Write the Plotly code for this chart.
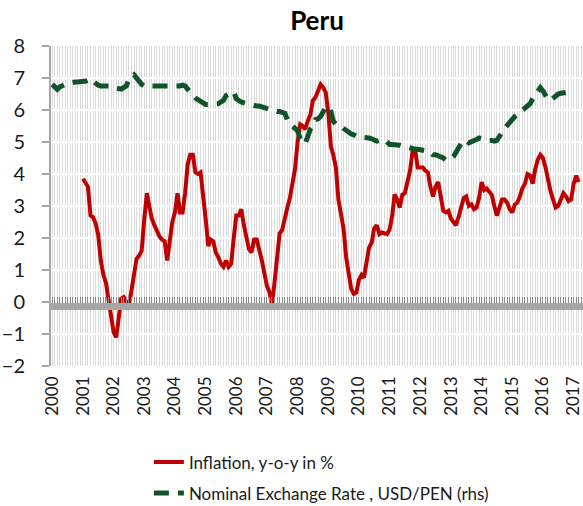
import pandas as pd
import plotly.graph_objects as go

# ---------------- data ----------------
title_text = "Peru"
infl_name = "Inflation, y-o-y in %"
fx_name = "Nominal Exchange Rate , USD/PEN (rhs)"

infl_start = "2001-01-01"
inflation = [
    3.85, 3.7, 3.6, 2.7, 2.65, 2.45, 2.1, 1.3, 0.85, 0.6, 0.1, -0.3,          # 2001
    -0.95, -1.1, -0.6, 0.1, 0.15, 0.0, -0.15, 0.35, 0.8, 1.35, 1.45, 1.6,      # 2002
    2.6, 3.4, 3.0, 2.6, 2.4, 2.2, 2.05, 1.95, 1.9, 1.3, 1.85, 2.5,             # 2003
    2.8, 3.4, 2.8, 2.8, 3.4, 4.3, 4.6, 4.6, 4.05, 4.0, 4.05, 3.4,              # 2004
    2.6, 1.75, 1.95, 1.9, 1.55, 1.4, 1.2, 1.1, 1.3, 1.1, 1.2, 2.0,             # 2005
    2.7, 2.7, 2.9, 2.4, 2.0, 1.65, 1.55, 1.95, 1.95, 1.65, 1.3, 0.9,           # 2006
    0.5, 0.3, -0.1, 0.6, 1.3, 2.15, 2.25, 2.65, 2.95, 3.25, 3.8, 4.15,         # 2007
    5.0, 5.55, 5.5, 5.4, 5.65, 5.85, 6.3, 6.4, 6.6, 6.8, 6.7, 6.55,            # 2008
    5.9, 4.85, 4.6, 4.2, 3.2, 2.7, 2.3, 1.4, 0.8, 0.4, 0.25, 0.3,              # 2009
    0.7, 0.85, 0.76, 1.2, 1.7, 1.85, 2.3, 2.4, 2.12, 2.17, 2.15, 2.12,         # 2010
    2.27, 2.7, 3.36, 3.2, 2.95, 3.35, 3.4, 3.7, 4.1, 4.7, 4.75, 4.2,           # 2011
    4.2, 4.2, 4.1, 4.05, 3.6, 3.3, 3.6, 3.75, 3.3, 2.85, 2.8, 2.85,            # 2012
    2.6, 2.5, 2.4, 2.65, 3.0, 3.25, 3.3, 3.0, 3.05, 2.9, 2.95, 3.25,           # 2013
    3.75, 3.5, 3.55, 3.45, 3.35, 3.0, 2.7, 2.95, 3.2, 3.2, 3.1, 2.9,           # 2014
    2.8, 3.05, 3.1, 3.3, 3.55, 3.7, 4.0, 3.95, 3.7, 4.15, 4.45, 4.6,           # 2015
    4.5, 4.2, 3.8, 3.45, 3.2, 2.95, 3.0, 3.2, 3.4, 3.3, 3.15, 3.2,             # 2016
    3.7, 3.95, 3.75,                                                           # 2017
]

fx_start = "2000-01-01"
exchange_rate = [
    3.52, 3.49, 3.46, 3.49, 3.51, 3.52, 3.53, 3.54, 3.54, 3.55, 3.55, 3.56,   # 2000
    3.56, 3.56, 3.57, 3.59, 3.56, 3.53, 3.51, 3.50, 3.50, 3.50, 3.50, 3.50,   # 2001
    3.48, 3.47, 3.46, 3.46, 3.48, 3.50, 3.58, 3.62, 3.64, 3.60, 3.55, 3.52,   # 2002
    3.50, 3.49, 3.49, 3.50, 3.50, 3.50, 3.50, 3.50, 3.50, 3.50, 3.49, 3.49,   # 2003
    3.49, 3.50, 3.50, 3.51, 3.50, 3.46, 3.41, 3.38, 3.35, 3.33, 3.31, 3.29,   # 2004
    3.27, 3.27, 3.27, 3.27, 3.27, 3.28, 3.30, 3.32, 3.38, 3.40, 3.42, 3.43,   # 2005
    3.34, 3.31, 3.30, 3.29, 3.28, 3.27, 3.26, 3.25, 3.25, 3.25, 3.24, 3.22,   # 2006
    3.21, 3.21, 3.20, 3.19, 3.18, 3.18, 3.17, 3.16, 3.08, 3.03, 3.00, 2.97,   # 2007
    2.94, 2.84, 2.79, 2.78, 2.88, 2.96, 3.00, 3.08, 3.09, 3.12, 3.18, 3.24,   # 2008
    3.24, 3.18, 3.06, 3.02, 3.01, 3.00, 2.97, 2.94, 2.91, 2.90, 2.89, 2.87,   # 2009
    2.86, 2.86, 2.86, 2.85, 2.85, 2.84, 2.82, 2.81, 2.82, 2.83, 2.83, 2.80,   # 2010
    2.77, 2.77, 2.77, 2.77, 2.76, 2.75, 2.74, 2.74, 2.73, 2.72, 2.71, 2.71,   # 2011
    2.70, 2.69, 2.69, 2.69, 2.66, 2.64, 2.64, 2.63, 2.61, 2.60, 2.57, 2.58,   # 2012
    2.59, 2.62, 2.68, 2.74, 2.78, 2.82, 2.82, 2.79, 2.80, 2.82, 2.83, 2.85,   # 2013
    2.84, 2.83, 2.83, 2.82, 2.82, 2.81, 2.82, 2.86, 2.92, 2.97, 3.01, 3.05,   # 2014
    3.09, 3.12, 3.14, 3.17, 3.19, 3.21, 3.25, 3.28, 3.34, 3.38, 3.43, 3.48,   # 2015
    3.44, 3.37, 3.33, 3.32, 3.35, 3.38, 3.40, 3.41, 3.41, 3.42, 3.39, 3.35,   # 2016
]

# ---------------- figure ----------------
infl_dates = pd.date_range(infl_start, periods=len(inflation), freq="MS")
fx_dates = pd.date_range(fx_start, periods=len(exchange_rate), freq="MS")
x_range = ["1999-12-17", "2017-04-22"]

FONT = "Lato, 'Open Sans', sans-serif"
RED = "#C00000"
GREEN = "#125228"
AXIS_GRAY = "#a6a6a6"

fig = go.Figure()
fig.add_trace(go.Scatter(
    x=infl_dates, y=inflation, name=infl_name, mode="lines",
    line=dict(color=RED, width=4), legendgroup="a",
))
fig.add_trace(go.Scatter(
    x=fx_dates, y=exchange_rate, name=fx_name, mode="lines", yaxis="y2",
    line=dict(color=GREEN, width=5, dash="15px,9px"), legendgroup="b",
))
# carrier trace for the x-axis band drawn at the zero crossing
fig.add_trace(go.Scatter(
    x=[fx_dates[0]], y=[None], xaxis="x2", showlegend=False, hoverinfo="skip",
))

fig.update_layout(
    width=583, height=506,
    margin=dict(l=51, r=0, t=46, b=140, autoexpand=False),
    paper_bgcolor="white", plot_bgcolor="white",
    font=dict(family=FONT, color="#1a1a1a"),
    title=dict(text="<b>" + title_text + "</b>", x=0.5, xref="paper",
               y=1 - 20.5 / 506, yref="container", yanchor="middle",
               font=dict(size=26, color="#000")),
    showlegend=True,
    legend=dict(x=0.184, y=-0.245, xanchor="left", yanchor="top",
                font=dict(size=17, color="#1a1a1a"), tracegroupgap=6,
                bgcolor="rgba(0,0,0,0)"),
    xaxis=dict(
        type="date", range=x_range, automargin=False,
        tick0="2000-01-01", dtick="M12", tickformat="%Y", tickangle=-90,
        tickfont=dict(size=17), ticks="", showline=False, zeroline=False,
        showgrid=True, gridcolor="#dadada", gridwidth=1,
        minor=dict(dtick="M1", tick0="2000-01-01", showgrid=True,
                   gridcolor="#dadada", gridwidth=1),
        ticklabelstandoff=6, ticklabeloverflow="allow",
    ),
    xaxis2=dict(
        type="date", range=x_range, overlaying="x", anchor="free",
        position=(-0.12 + 2) / 10, showline=True, linewidth=7,
        linecolor=AXIS_GRAY, ticks="inside", ticklen=6, tickwidth=1,
        tickcolor="#8a8a8a", tick0="2000-01-01", dtick="M1",
        showticklabels=False, showgrid=False, zeroline=False, automargin=False,
    ),
    yaxis=dict(
        range=[-2, 8], dtick=1, tick0=0, showgrid=True, gridcolor="white",
        gridwidth=2, zeroline=False, showline=True, linecolor=AXIS_GRAY,
        linewidth=2, ticks="outside", ticklen=7, tickcolor=AXIS_GRAY,
        tickwidth=2, tickfont=dict(size=20), automargin=False,
        ticklabelstandoff=13,
    ),
    yaxis2=dict(range=[0, 4], overlaying="y", side="right", visible=False),
)

fig.write_html(
    "out.html",
    config={"displayModeBar": False},
    post_script="document.body.style.margin='0';document.body.style.overflow='hidden';",
)
